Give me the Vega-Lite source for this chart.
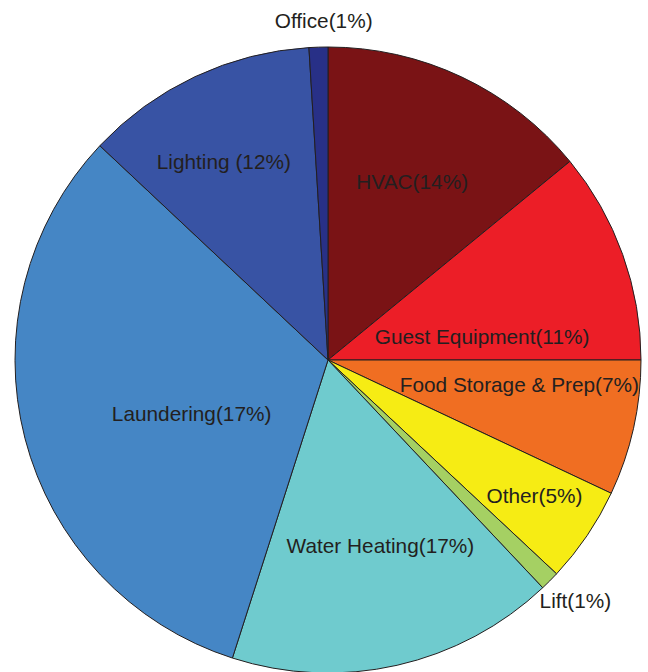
{
  "$schema": "https://vega.github.io/schema/vega-lite/v6.json",
  "width": 640,
  "height": 624,
  "autosize": "none",
  "padding": {"left": 8, "top": 48, "right": 0, "bottom": 0},
  "background": "white",
  "view": {"stroke": null},
  "config": {
    "text": {"font": "Liberation Sans", "fontSize": 20.8, "color": "#231f20", "align": "center", "baseline": "middle"}
  },
  "data": {
    "values": [
      {"category": "HVAC", "label": "HVAC(14%)", "value": 14.06, "order": 1},
      {"category": "Guest Equipment", "label": "Guest Equipment(11%)", "value": 10.94, "order": 2},
      {"category": "Food Storage & Prep", "label": "Food Storage & Prep(7%)", "value": 7.0, "order": 3},
      {"category": "Other", "label": "Other(5%)", "value": 4.97, "order": 4},
      {"category": "Lift", "label": "Lift(1%)", "value": 1.0, "order": 5},
      {"category": "Water Heating", "label": "Water Heating(17%)", "value": 16.97, "order": 6},
      {"category": "Laundering", "label": "Laundering(17%)", "value": 32.06, "order": 7},
      {"category": "Lighting", "label": "Lighting (12%)", "value": 12.03, "order": 8},
      {"category": "Office", "label": "Office(1%)", "value": 0.97, "order": 9}
    ]
  },
  "transform": [
    {"stack": "value", "groupby": [], "sort": [{"field": "order", "order": "ascending"}], "as": ["v0", "v1"]},
    {"calculate": "(datum.v0 + datum.v1) / 2", "as": "mid"}
  ],
  "layer": [
    {
      "mark": {"type": "arc", "outerRadius": 313, "stroke": "#231f20", "strokeWidth": 1},
      "encoding": {
        "theta": {"field": "v0", "type": "quantitative", "scale": {"domain": [0, 100]}},
        "theta2": {"field": "v1"},
        "color": {
          "field": "category",
          "type": "nominal",
          "legend": null,
          "scale": {
            "domain": ["HVAC", "Guest Equipment", "Food Storage & Prep", "Other", "Lift", "Water Heating", "Laundering", "Lighting", "Office"],
            "range": ["#7a1315", "#ec1e27", "#f06e22", "#f6ec14", "#a5d063", "#6fcbce", "#4586c5", "#3853a4", "#283087"]
          }
        }
      }
    },
    {
      "transform": [{"filter": "datum.category === 'HVAC'"}],
      "mark": {"type": "text", "radius": 197, "dy": 1.5},
      "encoding": {"theta": {"field": "mid", "type": "quantitative", "scale": {"domain": [0, 100]}}, "text": {"field": "label"}}
    },
    {
      "transform": [{"filter": "datum.category === 'Guest Equipment'"}],
      "mark": {"type": "text", "radius": 153, "dx": 10, "dy": 29.5},
      "encoding": {"theta": {"field": "mid", "type": "quantitative", "scale": {"domain": [0, 100]}}, "text": {"field": "label"}}
    },
    {
      "transform": [{"filter": "datum.category === 'Food Storage & Prep'"}],
      "mark": {"type": "text", "radius": 192, "dx": 4, "dy": -15.5},
      "encoding": {"theta": {"field": "mid", "type": "quantitative", "scale": {"domain": [0, 100]}}, "text": {"field": "label"}}
    },
    {
      "transform": [{"filter": "datum.category === 'Other'"}],
      "mark": {"type": "text", "radius": 247, "dx": 2, "dy": -1.5},
      "encoding": {"theta": {"field": "mid", "type": "quantitative", "scale": {"domain": [0, 100]}}, "text": {"field": "label"}}
    },
    {
      "transform": [{"filter": "datum.category === 'Lift'"}],
      "mark": {"type": "text", "radius": 345, "dx": 3, "dy": -1.5},
      "encoding": {"theta": {"field": "mid", "type": "quantitative", "scale": {"domain": [0, 100]}}, "text": {"field": "label"}}
    },
    {
      "transform": [{"filter": "datum.category === 'Water Heating'"}],
      "mark": {"type": "text", "radius": 192, "dx": 10, "dy": -0.5},
      "encoding": {"theta": {"field": "mid", "type": "quantitative", "scale": {"domain": [0, 100]}}, "text": {"field": "label"}}
    },
    {
      "transform": [{"filter": "datum.category === 'Laundering'"}],
      "mark": {"type": "text", "radius": 144, "dx": 3, "dy": 18.5},
      "encoding": {"theta": {"field": "mid", "type": "quantitative", "scale": {"domain": [0, 100]}}, "text": {"field": "label"}}
    },
    {
      "transform": [{"filter": "datum.category === 'Lighting'"}],
      "mark": {"type": "text", "radius": 224, "dx": -9, "dy": 5.5},
      "encoding": {"theta": {"field": "mid", "type": "quantitative", "scale": {"domain": [0, 100]}}, "text": {"field": "label"}}
    },
    {
      "transform": [{"filter": "datum.category === 'Office'"}],
      "mark": {"type": "text", "radius": 340, "dx": 6, "dy": 1.5},
      "encoding": {"theta": {"field": "mid", "type": "quantitative", "scale": {"domain": [0, 100]}}, "text": {"field": "label"}}
    }
  ]
}
